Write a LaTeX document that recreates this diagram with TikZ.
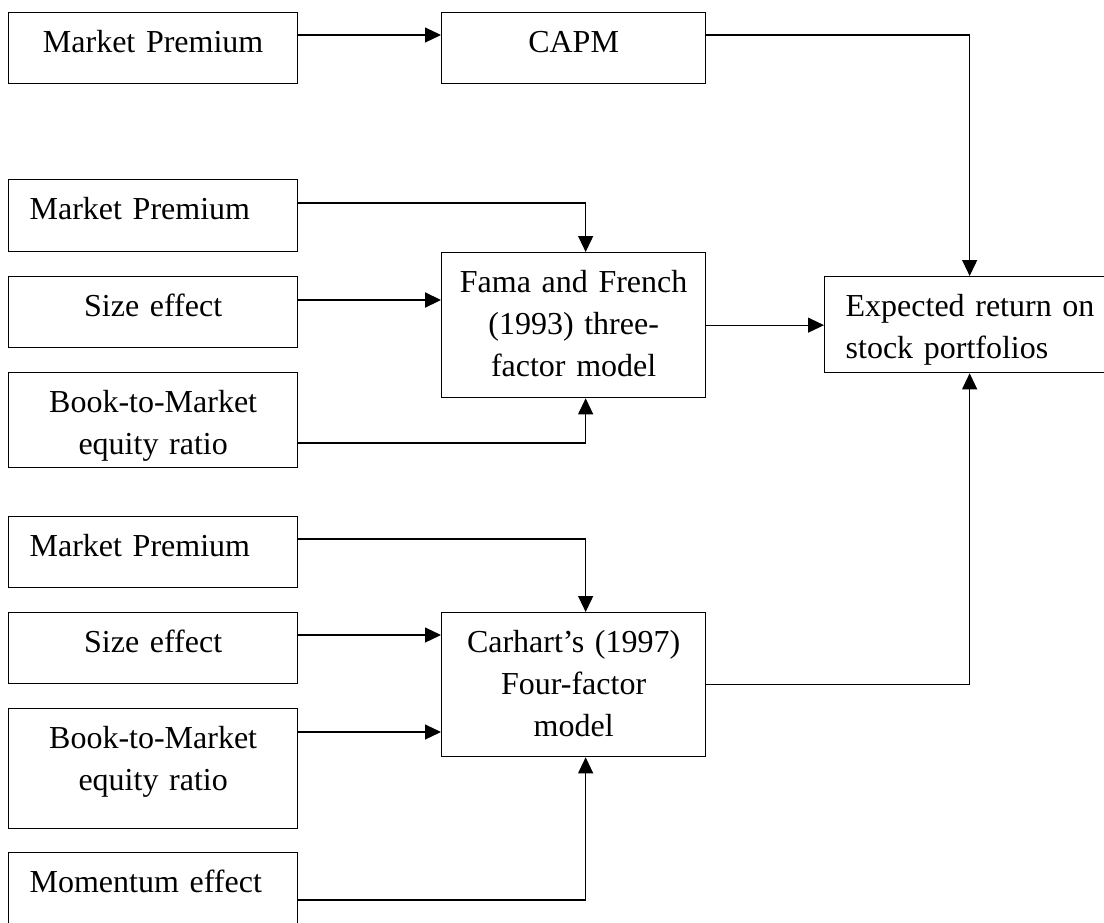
\documentclass[tikz,border=0pt]{standalone}
\usepackage{fontspec}
\setmainfont{Liberation Serif}
\usetikzlibrary{arrows.meta}
\tikzset{
  box/.style={draw, line width=0.65pt, anchor=north west, inner ysep=0pt,
    text height=20pt, font=\fontsize{16}{21}\selectfont},
  side/.style={box, inner xsep=10.5pt, text width=123.5pt},
  model/.style={box, inner xsep=6pt, text width=120pt, align=center},
  flow/.style={line width=0.6pt, -{Triangle[length=8pt,width=7.5pt]}},
}

\begin{document}
\begin{tikzpicture}[x=0.5pt, y=-0.5pt]
  \useasboundingbox (0,0) rectangle (1104,922);

  % CAPM row
  \node[side, align=center, text depth=15.5pt] (mpa) at (8,12) {Market Premium};
  \node[model, text depth=15.5pt] (capm) at (441,12) {CAPM};

  % three-factor inputs
  \node[side, align=left, text depth=16pt] (mpb) at (8,179) {Market Premium};
  \node[side, align=center, text depth=15.5pt] (sizeb) at (8,276) {Size effect};
  \node[side, align=center, text depth=27.5pt] (bmb) at (8,372) {Book-to-Market\\equity ratio};
  \node[model, text depth=52.5pt] (fama) at (441,252) {Fama and French\\(1993) three-\\factor model};

  % outcome (right edge runs off the page)
  \node[box, inner xsep=10.5pt, text width=124pt, align=left, text depth=28pt] (expret) at (824,276)
    {\mbox{Expected return on}\\stock portfolios};

  % four-factor inputs
  \node[side, align=left, text depth=15.5pt] (mpc) at (8,516) {Market Premium};
  \node[side, align=center, text depth=15.5pt] (sizec) at (8,612) {Size effect};
  \node[side, align=center, text depth=40pt] (bmc) at (8,708) {Book-to-Market\\equity ratio};
  \node[side, align=left, text depth=25pt] (mom) at (8,852) {Momentum effect};
  \node[model, text depth=52pt] (carhart) at (441,612) {Carhart's (1997)\\Four-factor\\model};

  \coordinate (mpa-out) at ([yshift=-11.5pt]mpa.north east);
  \coordinate (sizeb-out) at ([yshift=-12pt]sizeb.north east);
  \coordinate (sizec-out) at ([yshift=-11.5pt]sizec.north east);
  \coordinate (bmc-out) at ([yshift=-12pt]bmc.north east);

  \draw[flow] (mpa-out) -- (mpa-out -| capm.west);
  \draw[flow] ([yshift=-11.5pt]capm.north east) -| (expret.north);

  \draw[flow] ([yshift=-12pt]mpb.north east) -| ([xshift=6pt]fama.north);
  \draw[flow, line width=1.1pt] (sizeb-out) -- (sizeb-out -| fama.west);
  \draw[flow] ([yshift=-35.5pt]bmb.north east) -| ([xshift=6pt]fama.south);
  \draw[flow] (fama.east) -- (fama.east -| expret.west);

  \draw[flow] ([yshift=-11.5pt]mpc.north east) -| ([xshift=6pt]carhart.north);
  \draw[flow] (sizec-out) -- (sizec-out -| carhart.west);
  \draw[flow] (bmc-out) -- (bmc-out -| carhart.west);
  \draw[flow] ([yshift=-24pt]mom.north east) -| ([xshift=6pt]carhart.south);
  \draw[flow] (carhart.east) -| (expret.south);
\end{tikzpicture}
\end{document}
